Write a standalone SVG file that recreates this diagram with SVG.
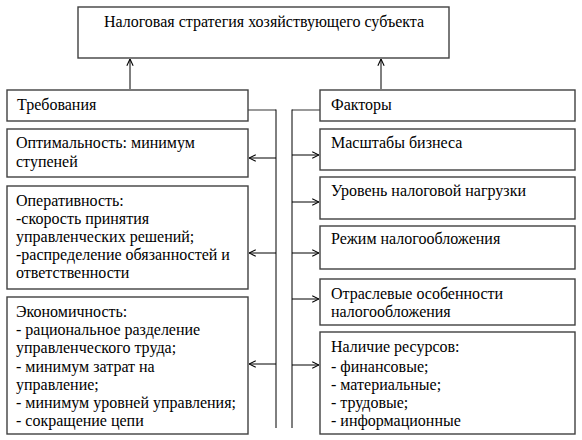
<svg xmlns="http://www.w3.org/2000/svg" width="582" height="440" viewBox="0 0 582 440">
<style>
.box{fill:#fff;stroke:#404040;stroke-width:1.4}
.t{font-size:16px;fill:#000}
.ln{fill:none;stroke:#000;stroke-width:1}
.stub{fill:none;stroke:#808080;stroke-width:1.6}
</style>
<defs>
<marker id="ah" viewBox="0 0 10 10" refX="9.5" refY="5" markerWidth="9" markerHeight="9" markerUnits="userSpaceOnUse" orient="auto">
<polyline points="2,1.5 9.5,5 2,8.5" fill="none" stroke="#000" stroke-width="1.2"/>
</marker>
</defs>
<rect width="582" height="440" fill="#fff"/>
<g id="connectors">
<line class="ln" x1="130" y1="89" x2="130" y2="59" marker-end="url(#ah)"/>
<line class="ln" x1="381" y1="89" x2="381" y2="59" marker-end="url(#ah)"/>
<polyline class="stub" points="248,110 276,110"/>
<polyline class="stub" points="320,110 292,110"/>
<line class="ln" x1="276" y1="109.5" x2="276" y2="428"/>
<line class="ln" x1="292" y1="109.5" x2="292" y2="428"/>
<line class="ln" x1="276" y1="158" x2="249" y2="158" marker-end="url(#ah)"/>
<line class="ln" x1="276" y1="253" x2="249" y2="253" marker-end="url(#ah)"/>
<line class="ln" x1="276" y1="364" x2="249" y2="364" marker-end="url(#ah)"/>
<line class="ln" x1="292" y1="155" x2="319" y2="155" marker-end="url(#ah)"/>
<line class="ln" x1="292" y1="202" x2="319" y2="202" marker-end="url(#ah)"/>
<line class="ln" x1="292" y1="253" x2="319" y2="253" marker-end="url(#ah)"/>
<line class="ln" x1="292" y1="299" x2="319" y2="299" marker-end="url(#ah)"/>
<line class="ln" x1="292" y1="365" x2="319" y2="365" marker-end="url(#ah)"/>
</g>
<g font-family="Liberation Serif, serif">
<g id="strategy">
<rect class="box" x="78" y="7" width="371" height="51"/>
<text class="t" x="264" y="27" text-anchor="middle">Налоговая стратегия хозяйствующего субъекта</text>
</g>
<g id="requirements">
<rect class="box" x="7" y="90" width="241" height="31"/>
<text class="t" x="17" y="110">Требования</text>
</g>
<g id="factors">
<rect class="box" x="320" y="90" width="255" height="31"/>
<text class="t" x="331" y="110">Факторы</text>
</g>
<g id="optimality">
<rect class="box" x="7" y="129" width="241" height="48"/>
<text class="t" x="16" y="148">Оптимальность: минимум</text>
<text class="t" x="16" y="166.5">ступеней</text>
</g>
<g id="efficiency">
<rect class="box" x="7" y="186" width="241" height="103"/>
<text class="t" x="16" y="206">Оперативность:</text>
<text class="t" x="16" y="224">-скорость принятия</text>
<text class="t" x="16" y="242">управленческих решений;</text>
<text class="t" x="16" y="260">-распределение обязанностей и</text>
<text class="t" x="16" y="278">ответственности</text>
</g>
<g id="economy">
<rect class="box" x="7" y="297" width="241" height="137"/>
<text class="t" x="16" y="316.5">Экономичность:</text>
<text class="t" x="16" y="335">- рациональное разделение</text>
<text class="t" x="16" y="353.3">управленческого труда;</text>
<text class="t" x="16" y="371.7">- минимум затрат на</text>
<text class="t" x="16" y="390">управление;</text>
<text class="t" x="16" y="408.3">- минимум уровней управления;</text>
<text class="t" x="16" y="426">- сокращение цепи</text>
</g>
<g id="scale">
<rect class="box" x="320" y="129" width="255" height="41"/>
<text class="t" x="331" y="147.5">Масштабы бизнеса</text>
</g>
<g id="taxload">
<rect class="box" x="320" y="177" width="255" height="42"/>
<text class="t" x="331" y="196">Уровень налоговой нагрузки</text>
</g>
<g id="regime">
<rect class="box" x="320" y="226" width="255" height="43"/>
<text class="t" x="331" y="243.5">Режим налогообложения</text>
</g>
<g id="industry">
<rect class="box" x="320" y="279" width="255" height="46"/>
<text class="t" x="331" y="298.5">Отраслевые особенности</text>
<text class="t" x="331" y="317">налогообложения</text>
</g>
<g id="resources">
<rect class="box" x="320" y="332" width="255" height="102"/>
<text class="t" x="331" y="351.7">Наличие ресурсов:</text>
<text class="t" x="331" y="371.5">- финансовые;</text>
<text class="t" x="331" y="390">- материальные;</text>
<text class="t" x="331" y="408.3">- трудовые;</text>
<text class="t" x="331" y="426">- информационные</text>
</g>
</g>
</svg>
